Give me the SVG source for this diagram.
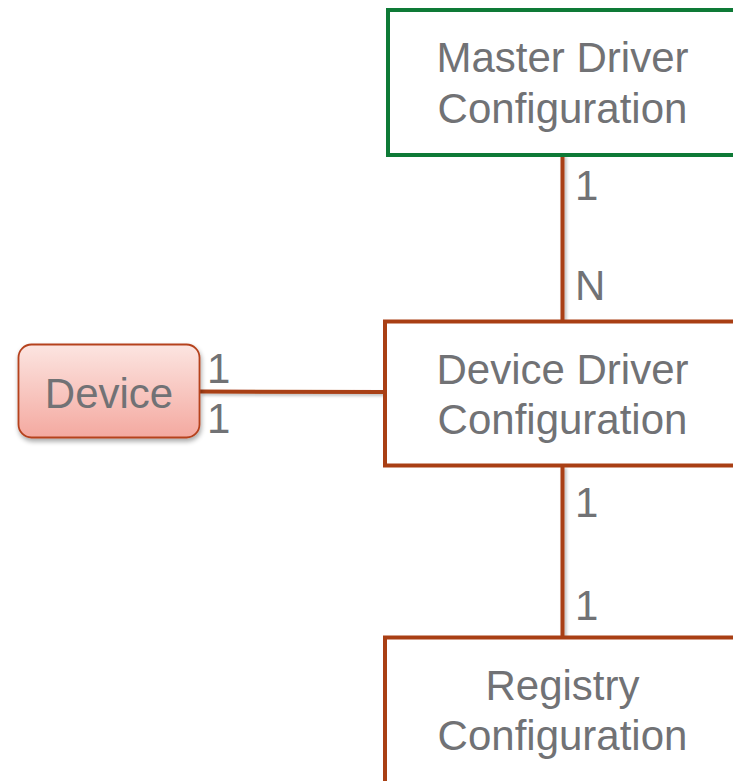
<svg xmlns="http://www.w3.org/2000/svg" width="733" height="781" viewBox="0 0 733 781">
<defs>
<linearGradient id="devGrad" x1="0" y1="0" x2="0" y2="1">
<stop offset="0" stop-color="#FCE5E1"/>
<stop offset="1" stop-color="#F4A9A0"/>
</linearGradient>
<filter id="shadow" x="-20%" y="-20%" width="140%" height="150%">
<feGaussianBlur in="SourceAlpha" stdDeviation="2.5"/>
<feOffset dx="1" dy="3" result="b"/>
<feComponentTransfer><feFuncA type="linear" slope="0.35"/></feComponentTransfer>
<feMerge><feMergeNode/><feMergeNode in="SourceGraphic"/></feMerge>
</filter>
<filter id="lshadow" x="-50%" y="-10%" width="200%" height="120%">
<feGaussianBlur in="SourceAlpha" stdDeviation="1.5"/>
<feOffset dx="1.5" dy="1.5"/>
<feComponentTransfer><feFuncA type="linear" slope="0.25"/></feComponentTransfer>
<feMerge><feMergeNode/><feMergeNode in="SourceGraphic"/></feMerge>
</filter>
</defs>
<style>
text{font-family:"Liberation Sans",Arial,sans-serif;fill:#717275;}
.big{font-size:42px;text-anchor:middle;}
.lbl{font-size:42px;}
.box{fill:#FFFFFF;stroke-width:4;}
.red{stroke:#A93F14;}
.green{stroke:#0E7A36;}
.conn{stroke:#A93F14;stroke-width:4;fill:none;}
</style>
<rect width="733" height="781" fill="#FFFFFF"/>
<g id="connectors" filter="url(#lshadow)">
<line class="conn" x1="562.5" y1="155" x2="562.5" y2="321"/>
<line class="conn" x1="562.5" y1="466" x2="562.5" y2="637"/>
<line class="conn" x1="200" y1="391.5" x2="385" y2="392"/>
</g>
<g id="master">
<rect class="box green" x="388" y="10" width="360" height="145"/>
<text class="big" x="562.5" y="72">Master Driver</text>
<text class="big" x="562.5" y="123">Configuration</text>
</g>
<g id="devicedriver">
<rect class="box red" x="385" y="321.5" width="360" height="144"/>
<text class="big" x="562.5" y="383.5">Device Driver</text>
<text class="big" x="562.5" y="433.5">Configuration</text>
</g>
<g id="registry">
<rect class="box red" x="385" y="637.5" width="360" height="160"/>
<text class="big" x="562.5" y="700">Registry</text>
<text class="big" x="562.5" y="750">Configuration</text>
</g>
<g id="device">
<rect x="18.5" y="344.5" width="181" height="93" rx="13" ry="13" fill="url(#devGrad)" stroke="#B5421F" stroke-width="1.8" filter="url(#shadow)"/>
<text class="big" x="109" y="408">Device</text>
</g>
<g id="labels">
<text class="lbl" x="575" y="200">1</text>
<text class="lbl" x="575" y="300">N</text>
<text class="lbl" x="575" y="517">1</text>
<text class="lbl" x="575" y="620">1</text>
<text class="lbl" x="207" y="383">1</text>
<text class="lbl" x="207" y="433">1</text>
</g>
</svg>
